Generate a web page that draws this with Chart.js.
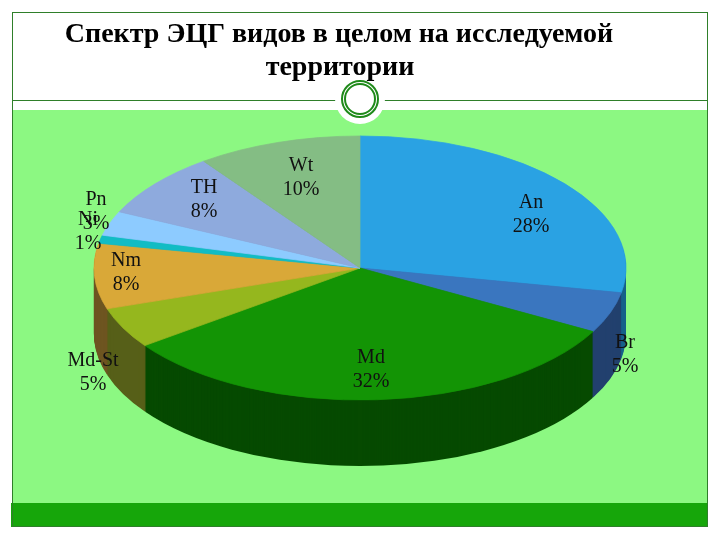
<!DOCTYPE html>
<html>
<head>
<meta charset="utf-8">
<script src="https://cdn.jsdelivr.net/npm/chart.js@4"></script>
<style>
html, body { margin: 0; padding: 0; background: #fff; }
canvas { display: block; }
</style>
</head>
<body>
<canvas id="chart" width="720" height="540"></canvas>
<script>
var titleLines = ["Спектр ЭЦГ видов в целом на исследуемой", "территории"];
var categories = ["An", "Br", "Md", "Md-St", "Nm", "Ni", "Pn", "TH", "Wt"];
var shares = [28, 5, 32, 5, 8, 1, 3, 8, 10];
var topColors = ["#2aa2e3", "#3a76bf", "#139405", "#95b71e", "#d9a838", "#12bcc4", "#8dcbff", "#8eaadd", "#84bd84"];
var wallColors = ["#17628a", "#22406e", "#064a00", "#565f18", "#6e5520", "#0a6a6e", "#4d7090", "#4d5f80", "#4a6a4a"];

// label centres on the slide, same order as categories
var labelX = [531, 625, 371, 93, 126, 88, 96, 204, 301];
var labelY = [213, 353, 368, 371, 271, 230, 210, 198, 176];

var pieRadius = 266, squash = 132 / 266, depth = 66;

function flatten(ctx, cy) {
	ctx.translate(0, cy);
	ctx.scale(1, squash);
	ctx.translate(0, -cy);
}

var slide = {
	id: "slide",
	beforeDraw: function(chart) {
		var ctx = chart.ctx;
		ctx.save();
		ctx.fillStyle = "#fff";
		ctx.fillRect(0, 0, 720, 540);
		ctx.fillStyle = "#8cf882";
		ctx.fillRect(12, 110, 695, 395);
		ctx.fillStyle = "#16a60a";
		ctx.fillRect(11, 503, 697, 24);
		ctx.strokeStyle = "#2f7f2a";
		ctx.lineWidth = 1;
		ctx.strokeRect(12.5, 12.5, 695, 514);
		ctx.beginPath();
		ctx.moveTo(12, 100.5);
		ctx.lineTo(708, 100.5);
		ctx.stroke();
		// ring over the divider
		ctx.fillStyle = "#fff";
		ctx.beginPath();
		ctx.arc(360, 99, 25, 0, Math.PI * 2);
		ctx.fill();
		ctx.strokeStyle = "#1f8a1a";
		ctx.lineWidth = 2;
		ctx.beginPath();
		ctx.arc(360, 99, 18, 0, Math.PI * 2);
		ctx.stroke();
		ctx.beginPath();
		ctx.arc(360, 99, 15, 0, Math.PI * 2);
		ctx.stroke();
		ctx.restore();
	},
	beforeDatasetDraw: function(chart) {
		var ctx = chart.ctx;
		var arcs = chart.getDatasetMeta(0).data;
		// side wall: stack the slices downwards, deepest first
		for (var d = depth; d > 0; d--) {
			arcs.forEach(function(a, i) {
				ctx.save();
				ctx.translate(0, d);
				flatten(ctx, a.y);
				ctx.fillStyle = wallColors[i];
				ctx.beginPath();
				ctx.moveTo(a.x, a.y);
				ctx.arc(a.x, a.y, a.outerRadius, a.startAngle, a.endAngle);
				ctx.closePath();
				ctx.fill();
				ctx.restore();
			});
		}
		ctx.save();
		flatten(ctx, arcs[0].y);
	},
	afterDatasetDraw: function(chart) {
		chart.ctx.restore();
	},
	afterDraw: function(chart) {
		var ctx = chart.ctx;
		ctx.save();
		ctx.textAlign = "center";
		ctx.textBaseline = "alphabetic";
		ctx.fillStyle = "#000";
		ctx.font = "bold 28px 'Liberation Serif'";
		ctx.fillText(titleLines[0], 339, 42);
		ctx.fillText(titleLines[1], 340, 75);
		ctx.fillStyle = "#111";
		ctx.font = "20px 'Liberation Serif'";
		categories.forEach(function(name, i) {
			ctx.fillText(name, labelX[i], labelY[i] - 5);
			ctx.fillText(shares[i] + "%", labelX[i], labelY[i] + 19);
		});
		ctx.restore();
	}
};

new Chart(document.getElementById("chart"), {
	type: "pie",
	data: {
		labels: categories,
		datasets: [{
			data: shares,
			backgroundColor: topColors,
			borderColor: topColors,
			borderWidth: 1,
			clip: false
		}]
	},
	options: {
		responsive: false,
		animation: false,
		radius: pieRadius,
		layout: { padding: { bottom: 4 } },
		plugins: { legend: { display: false }, tooltip: { enabled: false } }
	},
	plugins: [slide]
});
</script>
</body>
</html>
